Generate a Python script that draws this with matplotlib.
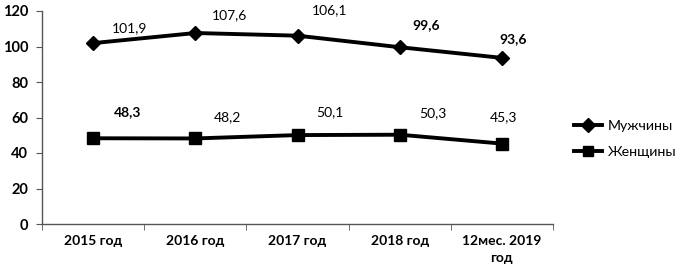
import matplotlib
matplotlib.use("Agg")
import matplotlib.pyplot as plt

categories = ["2015 год", "2016 год", "2017 год", "2018 год", "12мес. 2019\nгод"]
men = [101.9, 107.6, 106.1, 99.6, 93.6]
women = [48.3, 48.2, 50.1, 50.3, 45.3]
men_labels = ["101,9", "107,6", "106,1", "99,6", "93,6"]
women_labels = ["48,3", "48,2", "50,1", "50,3", "45,3"]
men_bold = [False, False, False, True, True]
women_bold = [True, False, False, False, False]

plt.rcParams['font.family'] = ['Lato', 'DejaVu Sans']

fig = plt.figure(figsize=(6.8, 2.74), dpi=100)
ax = fig.add_axes([42/680, 1-224/274, (553-42)/680, (224-11)/274])

x = list(range(len(categories)))
ax.plot(x, men, color='black', lw=2.8, marker='D', ms=7.5, mfc='black', mec='black', label='Мужчины')
ax.plot(x, women, color='black', lw=2.8, marker='s', ms=8.5, mfc='black', mec='black', label='Женщины')

men_off = [(36, 15), (34, 18), (32, 26), (26, 22), (11, 19)]
women_off = [(34, 26), (32, 21), (32, 23), (33, 22), (2, 26)]
for i in x:
    ax.annotate(men_labels[i], (x[i], men[i]), xytext=men_off[i], textcoords='offset pixels',
                ha='center', va='center', fontsize=10,
                fontweight='bold' if men_bold[i] else 'normal')
    ax.annotate(women_labels[i], (x[i], women[i]), xytext=women_off[i], textcoords='offset pixels',
                ha='center', va='center', fontsize=10,
                fontweight='bold' if women_bold[i] else 'normal')

ax.set_xlim(-0.5, len(categories) - 0.5)
ax.set_ylim(0, 120)
ax.set_yticks(range(0, 121, 20))
ax.set_xticks(x)
ax.set_xticklabels(categories, fontsize=10, fontweight='bold', linespacing=1.5)
ax.tick_params(axis='x', length=0, pad=8)
ax.set_xticks([i - 0.5 for i in range(len(categories) + 1)], minor=True)
ax.tick_params(axis='x', which='minor', length=4, color='#555555', direction='out')
ax.tick_params(axis='y', labelsize=10.5, length=4, color='#555555', pad=6)
for lab in ax.get_yticklabels():
    lab.set_fontweight('bold')
for s in ['top', 'right']:
    ax.spines[s].set_visible(False)
for s in ['left', 'bottom']:
    ax.spines[s].set_color('#555555')
    ax.spines[s].set_linewidth(1.0)

leg = fig.legend(loc='center left', bbox_to_anchor=(574/680, 1-139/274), frameon=False,
                 fontsize=10.2, handlelength=2.0, labelspacing=1.05, handletextpad=0.4,
                 borderpad=0, borderaxespad=0, markerscale=0.9)

fig.savefig("out.png", dpi=100)
